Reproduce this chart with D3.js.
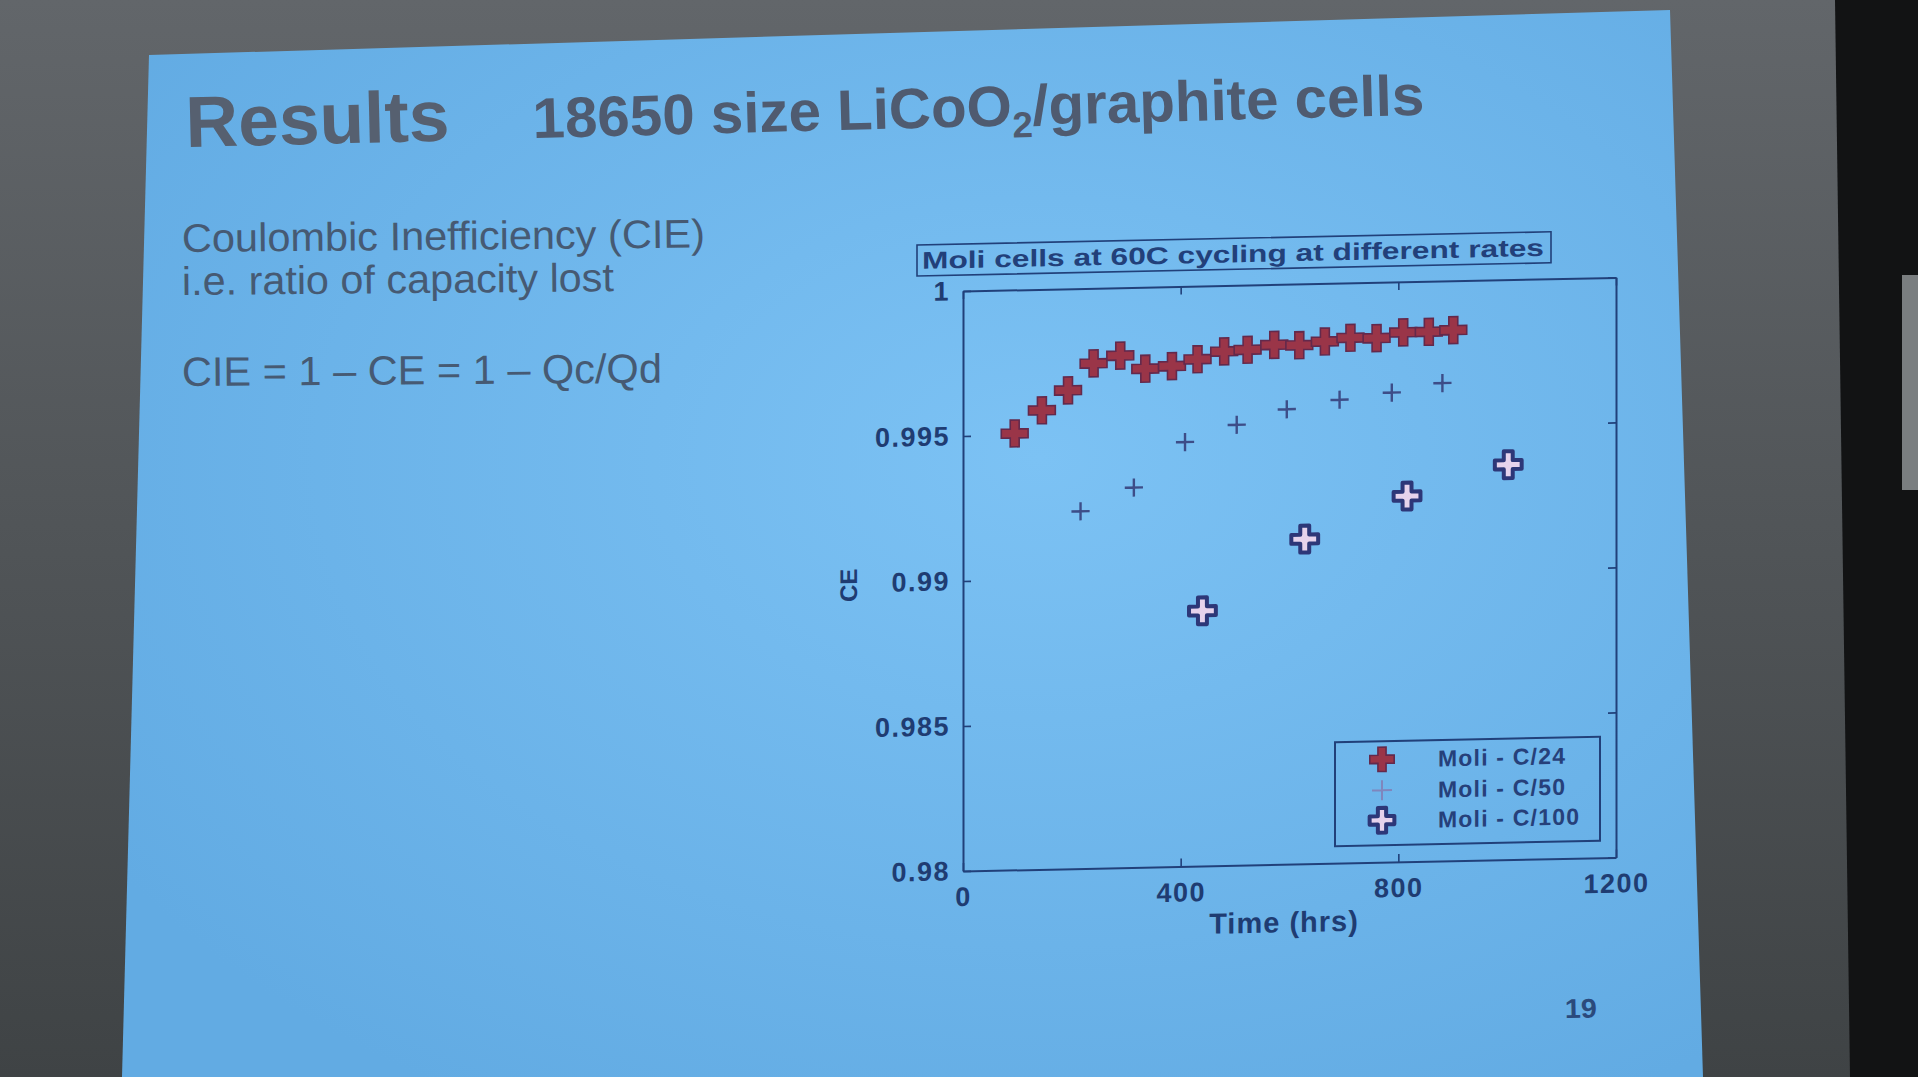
<!DOCTYPE html>
<html><head><meta charset="utf-8">
<script src="https://cdn.jsdelivr.net/npm/d3@7"></script>
<style>html,body{margin:0;padding:0;background:#4b4f51;overflow:hidden}</style>
</head><body>
<svg id="c" width="1918" height="1077"></svg>
<script>
// ---------- data ----------
const seriesNames = ["Moli - C/24", "Moli - C/50", "Moli - C/100"];
const c24Time = [95, 145, 193, 240, 289, 335, 384, 431, 480, 523, 572, 618, 665, 712, 760, 809, 856, 901];
const c24CE   = [0.99505, 0.99583, 0.9965, 0.99741, 0.99766, 0.99719, 0.99726, 0.99748, 0.99773, 0.99777,
                 0.99792, 0.99789, 0.998, 0.99811, 0.99808, 0.99826, 0.99826, 0.9983];
const c50Time = [216, 314, 408, 503, 595, 692, 788, 881];
const c50CE   = [0.99232, 0.9931, 0.99463, 0.99519, 0.99569, 0.99598, 0.99619, 0.99648];
const c100Time = [440, 628, 816, 1002];
const c100CE   = [0.9888, 0.9912, 0.99261, 0.99362];
const xTicks = [0, 400, 800, 1200];
const yTicks = [0.98, 0.985, 0.99, 0.995, 1];
const yTickLabels = ["0.98", "0.985", "0.99", "0.995", "1"];
const chartTitle = "Moli cells at 60C cycling at different rates";
const xLabel = "Time (hrs)";
const yLabel = "CE";

const svg = d3.select("#c");
const FONT = "'Liberation Sans', Arial, Helvetica, sans-serif";

// ---------- background / slide ----------
const defs = svg.append("defs");
const bg = defs.append("linearGradient").attr("id", "bg").attr("x1", 0).attr("y1", 0).attr("x2", 0).attr("y2", 1);
bg.append("stop").attr("offset", "0%").attr("stop-color", "#62666a");
bg.append("stop").attr("offset", "100%").attr("stop-color", "#3f4345");
const sl = defs.append("radialGradient").attr("id", "slide").attr("cx", "58%").attr("cy", "42%").attr("r", "70%");
sl.append("stop").attr("offset", "0%").attr("stop-color", "#7cc2f4");
sl.append("stop").attr("offset", "100%").attr("stop-color", "#62abe3");

svg.append("rect").attr("width", 1918).attr("height", 1077).attr("fill", "url(#bg)");
svg.append("polygon").attr("points", "1835,0 1918,0 1918,1077 1850,1077").attr("fill", "#121314");
svg.append("rect").attr("x", 1902).attr("y", 275).attr("width", 16).attr("height", 215).attr("fill", "#7a7e80");
svg.append("polygon").attr("points", "149,55 1670,10 1703,1077 122,1077").attr("fill", "url(#slide)");

// ---------- slide texts ----------
function slideText(str, x, yb, size, len, ang, color, weight) {
  return svg.append("text").attr("x", x).attr("y", yb)
    .attr("font-family", FONT).attr("font-size", size).attr("font-weight", weight || "normal")
    .attr("fill", color).attr("textLength", len).attr("lengthAdjust", "spacingAndGlyphs")
    .attr("transform", `rotate(${ang},${x},${yb})`).text(str);
}
slideText("Results", 186, 147, 72, 264, -1.4, "#566070", "bold");
const t2 = svg.append("text").attr("x", 533).attr("y", 138)
  .attr("font-family", FONT).attr("font-size", 57).attr("font-weight", "bold").attr("fill", "#4f5b70")
  .attr("textLength", 892).attr("lengthAdjust", "spacingAndGlyphs")
  .attr("transform", "rotate(-1.5,533,138)");
t2.append("tspan").text("18650 size LiCoO");
t2.append("tspan").attr("dy", 12).attr("font-size", 36).text("2");
t2.append("tspan").attr("dy", -12).text("/graphite cells");

slideText("Coulombic Inefficiency (CIE)", 182, 252, 40, 523, -0.5, "#465a73");
slideText("i.e. ratio of capacity lost", 182, 295, 40, 432, -0.5, "#465a73");
slideText("CIE = 1 \u2013 CE = 1 \u2013 Qc/Qd", 182, 386, 41, 480, -0.4, "#465a73");
slideText("19", 1565, 1018, 27, 32, -1, "#2b4a7c", "bold");

// ---------- chart ----------
const L = 963, R = 1616, T = 291, B = 871, k = -0.0208;
const INK = "#21407a";
const g = svg.append("g").attr("transform", `matrix(1,${k},0,1,0,${-k * L})`);
const x = d3.scaleLinear().domain([0, 1200]).range([L, R]);
const y = d3.scaleLinear().domain([0.98, 1]).range([B, T]);

function styleAxis(sel) {
  sel.selectAll(".domain").attr("stroke", INK).attr("stroke-width", 2);
  sel.selectAll(".tick line").attr("stroke", INK).attr("stroke-width", 1.6);
  sel.selectAll("text").attr("font-family", FONT).attr("font-size", 27).attr("font-weight", "bold")
    .attr("fill", "#1f3c72").attr("letter-spacing", 1.5);
}
g.append("g").attr("transform", `translate(0,${B})`)
  .call(d3.axisBottom(x).tickValues(xTicks).tickFormat(d3.format("d")).tickSize(-8).tickSizeOuter(0).tickPadding(16))
  .call(styleAxis);
g.append("g").attr("transform", `translate(${L},0)`)
  .call(d3.axisLeft(y).tickValues(yTicks).tickFormat((d, i) => yTickLabels[i]).tickSize(-8).tickSizeOuter(0).tickPadding(13))
  .call(styleAxis);
g.append("g").attr("transform", `translate(0,${T})`)
  .call(d3.axisTop(x).tickValues(xTicks).tickFormat("").tickSize(-8).tickSizeOuter(0))
  .call(styleAxis);
g.append("g").attr("transform", `translate(${R},0)`)
  .call(d3.axisRight(y).tickValues(yTicks).tickFormat("").tickSize(-8).tickSizeOuter(0))
  .call(styleAxis);

// markers
const sym24 = d3.symbol().type(d3.symbolCross).size(400);
const sym50 = d3.symbol().type(d3.symbolPlus).size(110);
const sym100 = d3.symbol().type(d3.symbolCross).size(400);
const style24 = s => s.attr("fill", "#9a3548").attr("stroke", "#63294c").attr("stroke-width", 1.6);
const style50 = s => s.attr("fill", "none").attr("stroke", "#3d4d88").attr("stroke-width", 2.4);
const style100 = s => s.attr("fill", "#e6d3ec").attr("stroke", "#2d3778").attr("stroke-width", 4).attr("stroke-linejoin", "round");

g.append("g").selectAll("path").data(c24Time.map((t, i) => [t, c24CE[i]])).join("path")
  .attr("d", sym24).attr("transform", d => `translate(${x(d[0])},${y(d[1])})`).call(style24);
g.append("g").selectAll("path").data(c50Time.map((t, i) => [t, c50CE[i]])).join("path")
  .attr("d", sym50).attr("transform", d => `translate(${x(d[0])},${y(d[1])})`).call(style50);
g.append("g").selectAll("path").data(c100Time.map((t, i) => [t, c100CE[i]])).join("path")
  .attr("d", sym100).attr("transform", d => `translate(${x(d[0])},${y(d[1])})`).call(style100);

// legend
const lg = g.append("g");
lg.append("rect").attr("x", 1335).attr("y", 750).attr("width", 265).attr("height", 104)
  .attr("fill", "none").attr("stroke", INK).attr("stroke-width", 2);
const legRows = [768, 799, 829];
lg.append("path").attr("d", d3.symbol().type(d3.symbolCross).size(330)()).attr("transform", `translate(1382,${legRows[0]})`).call(style24);
lg.append("path").attr("d", d3.symbol().type(d3.symbolPlus).size(132)()).attr("transform", `translate(1382,${legRows[1]})`)
  .attr("fill", "none").attr("stroke", "#7f86bd").attr("stroke-width", 2);
lg.append("path").attr("d", d3.symbol().type(d3.symbolCross).size(340)()).attr("transform", `translate(1382,${legRows[2]})`).call(style100);
lg.selectAll("text.leg").data(seriesNames).join("text").attr("class", "leg")
  .attr("x", 1438).attr("y", (d, i) => legRows[i]).attr("dy", "0.36em")
  .attr("font-family", FONT).attr("font-size", 23).attr("font-weight", "bold").attr("fill", "#26407a")
  .attr("letter-spacing", 1.2).text(d => d);

// title box
g.append("rect").attr("x", 917).attr("y", 244).attr("width", 634).attr("height", 31)
  .attr("fill", "none").attr("stroke", INK).attr("stroke-width", 1.6);
g.append("text").attr("x", 922).attr("y", 268).attr("font-family", FONT).attr("font-size", 24).attr("font-weight", "bold")
  .attr("fill", "#22407a").attr("textLength", 622).attr("lengthAdjust", "spacingAndGlyphs").text(chartTitle);

// axis labels
g.append("text").attr("x", 1284).attr("y", 939).attr("text-anchor", "middle")
  .attr("font-family", FONT).attr("font-size", 29).attr("font-weight", "bold").attr("fill", "#1f3c72")
  .attr("letter-spacing", 1).text(xLabel);
g.append("text").attr("transform", "translate(857,583) rotate(-90)").attr("text-anchor", "middle")
  .attr("font-family", FONT).attr("font-size", 24).attr("font-weight", "bold").attr("fill", "#1f3c72").text(yLabel);
</script>
</body></html>
